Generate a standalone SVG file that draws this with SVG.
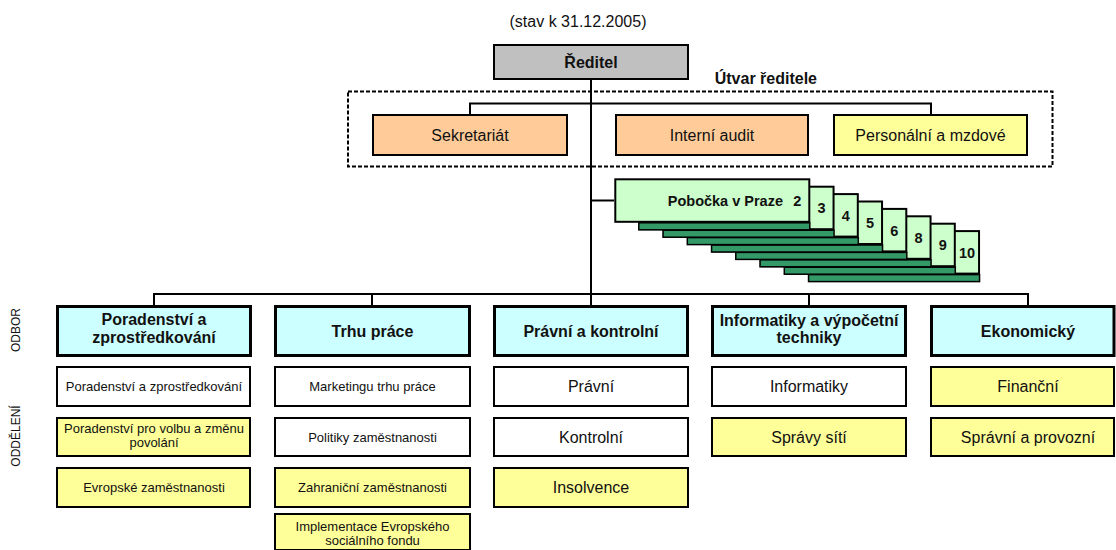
<svg xmlns="http://www.w3.org/2000/svg" width="1116" height="550" viewBox="0 0 1116 550">
<style>
text{font-family:"Liberation Sans",Arial,sans-serif;fill:#111;text-anchor:middle}
.b{font-weight:bold}
.f16{font-size:16px}
.f13{font-size:13px}
.box{stroke:#000;stroke-width:2}
.odb{stroke:#000;stroke-width:3;fill:#ccffff}
.w{fill:#fff}.y{fill:#ffff99}.o{fill:#ffcc99}.g{fill:#ccffcc}.gr{fill:#c0c0c0}
.sh{fill:#339966;stroke:#000;stroke-width:1.5}
.ln{fill:none;stroke:#000;stroke-width:2}
.lbl{font-size:12px}
</style>

<text class="f16" x="578" y="27">(stav k 31.12.2005)</text>

<g id="connectors">
<path class="ln" d="M591 80 V294"/>
<path class="ln" d="M470 114 V103.5 H931 V114"/>
<path class="ln" d="M591 200.5 H614"/>
<path class="ln" d="M154 305 V294 H1028 V305 M372 294 V305 M591 294 V305 M809 294 V305"/>
</g>

<g id="utvar">
<rect x="348" y="91.5" width="704.5" height="75" fill="none" stroke="#000" stroke-width="2" stroke-dasharray="4 2"/>
<text class="b f16" x="817" y="84" style="text-anchor:end">Útvar ředitele</text>
</g>

<g id="reditel">
<rect class="box gr" x="494" y="45" width="194" height="34"/>
<text class="b f16" x="591" y="68">Ředitel</text>
</g>

<g id="sekretariat">
<rect class="box o" x="373" y="115" width="194" height="40"/>
<text class="f16" x="470" y="140.5">Sekretariát</text>
</g>
<g id="audit">
<rect class="box o" x="616" y="115" width="192" height="40"/>
<text class="f16" x="712" y="140.5">Interní audit</text>
</g>
<g id="personalni">
<rect class="box y" x="834" y="115" width="193" height="40"/>
<text class="f16" x="930.5" y="140.5">Personální a mzdové</text>
</g>

<g id="pobocky">
<rect class="box g" x="785.05" y="231.1" width="194" height="42.5"/>
<rect class="sh" x="808.55" y="274.6" width="171" height="7"/>
<text class="b" font-size="14.5" x="967.05" y="257.8">10</text>
<rect class="box g" x="760.8" y="223.7" width="194" height="42.5"/>
<rect class="sh" x="784.3" y="267.2" width="171" height="7"/>
<text class="b" font-size="14.5" x="942.8" y="250.4">9</text>
<rect class="box g" x="736.55" y="216.3" width="194" height="42.5"/>
<rect class="sh" x="760.05" y="259.8" width="171" height="7"/>
<text class="b" font-size="14.5" x="918.55" y="243">8</text>
<rect class="box g" x="712.3" y="208.9" width="194" height="42.5"/>
<rect class="sh" x="735.8" y="252.4" width="171" height="7"/>
<text class="b" font-size="14.5" x="894.3" y="235.6">6</text>
<rect class="box g" x="688.05" y="201.5" width="194" height="42.5"/>
<rect class="sh" x="711.55" y="245" width="171" height="7"/>
<text class="b" font-size="14.5" x="870.05" y="228.2">5</text>
<rect class="box g" x="663.8" y="194.1" width="194" height="42.5"/>
<rect class="sh" x="687.3" y="237.6" width="171" height="7"/>
<text class="b" font-size="14.5" x="845.8" y="220.8">4</text>
<rect class="box g" x="639.55" y="186.7" width="194" height="42.5"/>
<rect class="sh" x="663.05" y="230.2" width="171" height="7"/>
<text class="b" font-size="14.5" x="821.55" y="213.4">3</text>
<rect class="box g" x="615.3" y="179.3" width="194" height="42.5"/>
<rect class="sh" x="638.8" y="222.8" width="171" height="7"/>
<text class="b" font-size="14.5" x="797.3" y="206">2</text>
<text class="b" font-size="14.5" x="783" y="206" style="text-anchor:end">Pobočka v Praze</text>
</g>

<g id="labels">
<text class="lbl" transform="translate(20,330) rotate(-90)">ODBOR</text>
<text class="lbl" transform="translate(20,436) rotate(-90)">ODDĚLENÍ</text>
</g>

<!-- column 1 -->
<g id="odbor-poradenstvi">
<rect class="odb" x="57.5" y="306.5" width="193" height="49"/>
<text class="b f16" x="154" y="325">Poradenství a</text>
<text class="b f16" x="154" y="343">zprostředkování</text>
</g>
<g id="odd-poradenstvi">
<rect class="box w" x="57" y="367" width="193" height="39"/>
<text class="f13" x="154" y="391">Poradenství a zprostředkování</text>
</g>
<g id="odd-volba">
<rect class="box y" x="57" y="418" width="193" height="38"/>
<text class="f13" x="154" y="432.5">Poradenství pro volbu a změnu</text>
<text class="f13" x="154" y="447">povolání</text>
</g>
<g id="odd-evropske">
<rect class="box y" x="57" y="468" width="193" height="39"/>
<text class="f13" x="154" y="492">Evropské zaměstnanosti</text>
</g>

<!-- column 2 -->
<g id="odbor-trhu">
<rect class="odb" x="275.5" y="306.5" width="194" height="49"/>
<text class="b f16" x="372.5" y="336.5">Trhu práce</text>
</g>
<g id="odd-marketing">
<rect class="box w" x="275" y="367" width="195" height="39"/>
<text class="f13" x="372.5" y="391">Marketingu trhu práce</text>
</g>
<g id="odd-politiky">
<rect class="box w" x="275" y="418" width="195" height="38"/>
<text class="f13" x="372.5" y="441.5">Politiky zaměstnanosti</text>
</g>
<g id="odd-zahranicni">
<rect class="box y" x="275" y="468" width="195" height="39"/>
<text class="f13" x="372.5" y="492">Zahraniční zaměstnanosti</text>
</g>
<g id="odd-esf">
<rect class="box y" x="275" y="514" width="195" height="36"/>
<text class="f13" x="372.5" y="531">Implementace Evropského</text>
<text class="f13" x="372.5" y="545">sociálního fondu</text>
</g>

<!-- column 3 -->
<g id="odbor-pravni">
<rect class="odb" x="494.5" y="306.5" width="193" height="49"/>
<text class="b f16" x="591" y="336.5">Právní a kontrolní</text>
</g>
<g id="odd-pravni">
<rect class="box w" x="494" y="367" width="194" height="39"/>
<text class="f16" x="591" y="392">Právní</text>
</g>
<g id="odd-kontrolni">
<rect class="box w" x="494" y="418" width="194" height="38"/>
<text class="f16" x="591" y="442.5">Kontrolní</text>
</g>
<g id="odd-insolvence">
<rect class="box y" x="494" y="468" width="194" height="39"/>
<text class="f16" x="591" y="493">Insolvence</text>
</g>

<!-- column 4 -->
<g id="odbor-informatiky">
<rect class="odb" x="712.5" y="306.5" width="193" height="49"/>
<text class="b f16" x="809" y="326">Informatiky a výpočetní</text>
<text class="b f16" x="809" y="343">techniky</text>
</g>
<g id="odd-informatiky">
<rect class="box w" x="712" y="367" width="194" height="39"/>
<text class="f16" x="809" y="392">Informatiky</text>
</g>
<g id="odd-site">
<rect class="box y" x="712" y="418" width="194" height="38"/>
<text class="f16" x="809" y="442.5">Správy sítí</text>
</g>

<!-- column 5 -->
<g id="odbor-ekonomicky">
<rect class="odb" x="931.5" y="306.5" width="182.5" height="49"/>
<text class="b f16" x="1028" y="336.5">Ekonomický</text>
</g>
<g id="odd-financni">
<rect class="box y" x="931" y="367" width="183" height="39"/>
<text class="f16" x="1028" y="392">Finanční</text>
</g>
<g id="odd-spravni">
<rect class="box y" x="931" y="418" width="183" height="38"/>
<text class="f16" x="1028" y="442.5">Správní a provozní</text>
</g>
</svg>
